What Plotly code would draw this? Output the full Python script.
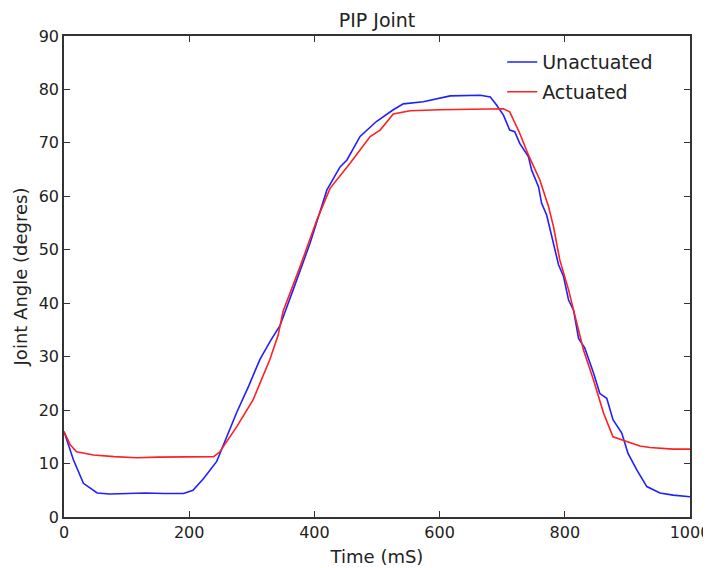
import plotly.graph_objects as go

unact_t = [0, 15, 31, 53, 73, 100, 130, 160, 191, 206, 223, 244, 260, 276, 295, 313, 330, 345, 366, 393,
           420, 441, 452, 473, 499, 526, 542, 574, 617, 665, 681, 691, 702, 712, 720, 728, 742, 747, 758,
           763, 771, 782, 790, 798, 806, 814, 822, 832, 846, 856, 867, 877, 891, 901, 915, 931, 952, 973, 1000]
unact_y = [16, 10.7, 6.3, 4.5, 4.3, 4.4, 4.5, 4.4, 4.4, 5, 7.2, 10.4, 15, 19.6, 24.5, 29.5, 33, 35.8, 42.5, 51.2,
           61.2, 65.5, 66.8, 71.2, 74, 76.2, 77.3, 77.7, 78.8, 78.9, 78.6, 77.1, 75.2, 72.4, 72.1, 69.9, 67.4, 64.9, 61.8,
           58.7, 56.5, 51.2, 47.2, 45, 40.6, 38.7, 33.4, 31.6, 26.9, 23.1, 22.2, 18.2, 15.7, 11.9, 8.8, 5.7, 4.5, 4.1, 3.8]

act_t = [0, 10, 20, 47, 80, 116, 150, 180, 210, 239, 249, 262, 276, 302, 329, 342, 350, 377, 404, 425,
         457, 489, 505, 526, 553, 600, 665, 702, 712, 728, 742, 760, 774, 782, 792, 806, 814, 830, 846,
         862, 877, 899, 920, 936, 973, 1000]
act_y = [16, 13.5, 12.2, 11.6, 11.3, 11.1, 11.2, 11.2, 11.2, 11.3, 12.2, 14.5, 16.9, 21.9, 29.5, 34, 38.5, 46.8, 55.6, 61.5,
         66.2, 71.2, 72.4, 75.4, 76, 76.2, 76.3, 76.4, 75.8, 71.8, 67.7, 63.1, 58.1, 54.3, 48.1, 42.5, 38.7, 31.2, 25.6,
         19.4, 15, 14.1, 13.3, 13, 12.7, 12.7]

x_ticks = [0, 200, 400, 600, 800, 1000]
y_ticks = [0, 10, 20, 30, 40, 50, 60, 70, 80, 90]

font = "DejaVu Sans"
txt = "#222"
W, H = 703, 560

fig = go.Figure()
fig.add_trace(go.Scatter(x=unact_t, y=unact_y, mode="lines", name="Unactuated", legendgroup="u",
                         line=dict(color="#2020ff", width=1.6)))
fig.add_trace(go.Scatter(x=act_t, y=act_y, mode="lines", name="Actuated", legendgroup="a",
                         line=dict(color="#ff2020", width=1.6)))

axis_common = dict(showgrid=False, zeroline=False, showline=True, linecolor="#333", linewidth=1.5,
                   mirror="ticks", ticks="inside", ticklen=6, tickcolor="#333", tickwidth=1,
                   automargin=False,
                   tickfont=dict(family=font, size=16, color=txt))
fig.update_xaxes(range=[0, 1000], tickvals=x_ticks,
                 title=dict(text="Time (mS)", font=dict(family=font, size=18, color=txt), standoff=9),
                 **axis_common)
fig.update_yaxes(range=[0, 90], tickvals=y_ticks,
                 title=dict(text="Joint Angle (degres)", font=dict(family=font, size=18, color=txt), standoff=6),
                 **axis_common)

fig.update_layout(
    width=W, height=H,
    margin=dict(l=56, r=21, t=28, b=51),
    paper_bgcolor="white", plot_bgcolor="white",
    title=dict(text="PIP Joint", x=0.5, xref="paper", xanchor="center", y=1 - 12 / H, yanchor="middle",
               font=dict(family=font, size=19, color=txt)),
    legend=dict(x=0.7, xanchor="left", y=0.985, yanchor="top", bgcolor="rgba(0,0,0,0)",
                font=dict(family=font, size=19, color=txt), tracegroupgap=2),
    showlegend=True,
)

fig.write_html("out.html")
